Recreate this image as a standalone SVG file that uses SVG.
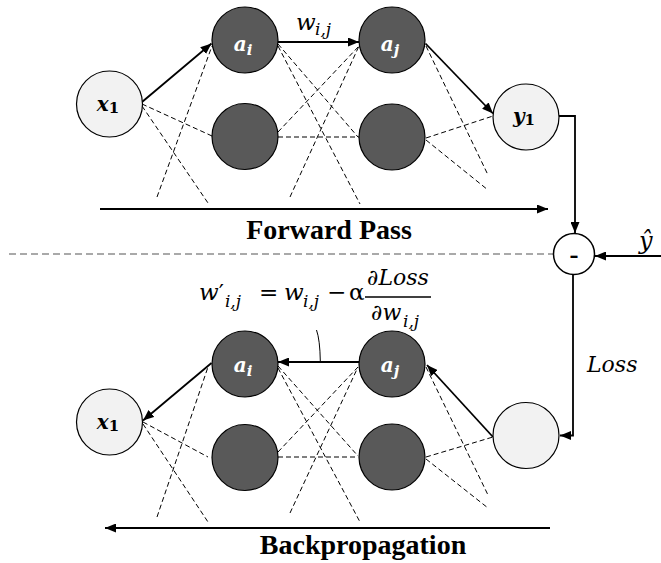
<svg xmlns="http://www.w3.org/2000/svg" width="661" height="563" viewBox="0 0 661 563">
  <defs>
    <marker id="arrow" markerUnits="userSpaceOnUse" markerWidth="11" markerHeight="9" refX="11" refY="4.5" orient="auto">
      <path d="M0,0 L11,4.5 L0,9 z" fill="#000"/>
    </marker>
  </defs>
  <style>
    .dark { fill: #595959; stroke: #000; stroke-width: 1.2; }
    .light { fill: #f2f2f2; stroke: #000; stroke-width: 1.2; }
    .plain { fill: #fff; stroke: #000; stroke-width: 1.5; }
    .solid { stroke: #000; stroke-width: 1.8; fill: none; }
    .arr { stroke: #000; stroke-width: 1.8; fill: none; marker-end: url(#arrow); }
    .dash { stroke: #000; stroke-width: 1; stroke-dasharray: 5 3; fill: none; }
    .divider { stroke: #555; stroke-width: 1.1; stroke-dasharray: 7 4; fill: none; }
    .lbl { font-family: "DejaVu Serif", serif; font-weight: bold; font-style: italic; font-size: 20px; text-anchor: middle; }
    .sub { font-size: 15px; }
    .up { font-style: normal; }
    .white { fill: #fff; }
    .math { font-family: "DejaVu Serif", serif; font-style: italic; font-size: 23px; fill: #000; }
    .mathup { font-family: "DejaVu Serif", serif; font-size: 23px; fill: #000; }
    .msub { font-family: "DejaVu Serif", serif; font-style: italic; font-size: 17px; fill: #000; }
    .title { font-family: "Liberation Serif", "Times New Roman", serif; font-weight: bold; font-size: 28px; text-anchor: middle; fill: #000; }
  </style>

  <!-- connectors -->
  <g id="connectors">
    <!-- forward network: weights -->
    <line class="arr" x1="142" y1="102" x2="211.5" y2="43.5"/>
    <line class="arr" x1="278" y1="42" x2="359" y2="42"/>
    <line class="arr" x1="425.5" y1="43.5" x2="493" y2="113.5"/>
    <line class="dash" x1="142" y1="104" x2="212" y2="136"/>
    <line class="dash" x1="142" y1="106" x2="208" y2="203"/>
    <line class="dash" x1="157" y1="197" x2="212" y2="46"/>
    <line class="dash" x1="278" y1="44" x2="358" y2="137"/>
    <line class="dash" x1="278" y1="46" x2="360" y2="204"/>
    <line class="dash" x1="278" y1="137" x2="359" y2="137"/>
    <line class="dash" x1="278" y1="132" x2="359" y2="46"/>
    <line class="dash" x1="290" y1="197" x2="359" y2="46"/>
    <line class="dash" x1="426" y1="46" x2="488" y2="175"/>
    <line class="dash" x1="426" y1="138" x2="493" y2="116"/>
    <line class="dash" x1="426" y1="140" x2="488" y2="190"/>

    <!-- backward network: gradients -->
    <line class="arr" x1="211.5" y1="363" x2="143" y2="420.5"/>
    <line class="arr" x1="359" y1="362" x2="278" y2="362"/>
    <line class="arr" x1="493" y1="437" x2="427" y2="365"/>
    <line class="dash" x1="143" y1="422" x2="208" y2="457"/>
    <line class="dash" x1="143" y1="424" x2="208" y2="522"/>
    <line class="dash" x1="157" y1="517" x2="208" y2="367"/>
    <line class="dash" x1="278" y1="366" x2="358" y2="456"/>
    <line class="dash" x1="278" y1="368" x2="360" y2="522"/>
    <line class="dash" x1="278" y1="457" x2="358" y2="457"/>
    <line class="dash" x1="278" y1="452" x2="358" y2="367"/>
    <line class="dash" x1="290" y1="513" x2="358" y2="367"/>
    <line class="dash" x1="426" y1="367" x2="488" y2="495"/>
    <line class="dash" x1="426" y1="457" x2="493" y2="437"/>
    <line class="dash" x1="426" y1="459" x2="488" y2="508"/>

    <!-- pass direction arrows -->
    <line class="arr" x1="100" y1="209" x2="548" y2="209"/>
    <line class="arr" x1="550" y1="528" x2="105" y2="528"/>

    <!-- output to subtraction, target input, loss feedback -->
    <polyline class="arr" points="559,116 575,116 575,233"/>
    <line class="arr" x1="661" y1="256" x2="595" y2="256"/>
    <polyline class="arr" points="573,275 573,435.5 560,435.5"/>

    <!-- separator between the two passes -->
    <line class="divider" x1="9" y1="254" x2="553" y2="254"/>

    <!-- pointer from the update rule to the weight -->
    <path class="solid" style="stroke-width:1" d="M316.5,330 Q320,340 320.3,361"/>
  </g>

  <!-- forward pass nodes -->
  <g id="fwd-x1">
    <circle class="light" cx="109.5" cy="104" r="33"/>
    <text class="lbl" x="108" y="111">x<tspan class="sub up" dy="2">1</tspan></text>
  </g>
  <g id="fwd-ai">
    <circle class="dark" cx="245" cy="40" r="33"/>
    <text class="lbl white" x="243" y="50.5">a<tspan class="sub" dy="4">i</tspan></text>
  </g>
  <g id="fwd-h1">
    <circle class="dark" cx="245" cy="136.5" r="33"/>
  </g>
  <g id="fwd-aj">
    <circle class="dark" cx="392" cy="40" r="33"/>
    <text class="lbl white" x="390" y="50.5">a<tspan class="sub" dy="4">j</tspan></text>
  </g>
  <g id="fwd-h2">
    <circle class="dark" cx="392" cy="137" r="33"/>
  </g>
  <g id="fwd-y1">
    <circle class="light" cx="526" cy="117" r="33"/>
    <text class="lbl" x="524" y="123">y<tspan class="sub up" dy="2">1</tspan></text>
  </g>

  <!-- subtraction node -->
  <g id="minus">
    <circle class="plain" cx="574" cy="254" r="20.5"/>
    <text x="574" y="263" font-family="Liberation Serif, serif" font-weight="bold" font-size="27" text-anchor="middle">-</text>
  </g>

  <!-- backward pass nodes -->
  <g id="bwd-x1">
    <circle class="light" cx="109.5" cy="422" r="33"/>
    <text class="lbl" x="108" y="429">x<tspan class="sub up" dy="2">1</tspan></text>
  </g>
  <g id="bwd-ai">
    <circle class="dark" cx="245" cy="364" r="33"/>
    <text class="lbl white" x="243" y="372">a<tspan class="sub" dy="4">i</tspan></text>
  </g>
  <g id="bwd-h1">
    <circle class="dark" cx="245" cy="457.5" r="33"/>
  </g>
  <g id="bwd-aj">
    <circle class="dark" cx="392" cy="364" r="33"/>
    <text class="lbl white" x="390" y="372">a<tspan class="sub" dy="4">j</tspan></text>
  </g>
  <g id="bwd-h2">
    <circle class="dark" cx="392" cy="457" r="33"/>
  </g>
  <g id="bwd-out">
    <circle class="light" cx="526" cy="435.5" r="33"/>
  </g>

  <!-- labels -->
  <g id="labels">
    <text class="math" x="296" y="30">w</text>
    <text class="msub" x="315" y="35">i,j</text>

    <text class="math" x="639" y="249" style="font-size:24px">ŷ</text>
    <text class="math" x="587" y="372" style="font-size:22px">Loss</text>

    <text class="title" x="329" y="239">Forward Pass</text>
    <text class="title" x="363" y="554">Backpropagation</text>

    <!-- weight update rule -->
    <text class="math" x="199" y="300">w<tspan class="up">′</tspan><tspan class="msub" dx="1" dy="7">i,j</tspan></text>
    <text class="mathup" x="259" y="300">=</text>
    <text class="math" x="284" y="300">w</text>
    <text class="msub" x="303" y="307">i,j</text>
    <text class="mathup" x="327" y="300">−</text>
    <text class="mathup" x="349" y="300">α</text>
    <line x1="365" y1="297" x2="431" y2="297" stroke="#000" stroke-width="1.3"/>
    <text class="math" x="398" y="285" text-anchor="middle" style="font-size:22px">∂Loss</text>
    <text class="math" x="371" y="320" style="font-size:22px">∂w</text>
    <text class="msub" x="403" y="327">i,j</text>
  </g>
</svg>
